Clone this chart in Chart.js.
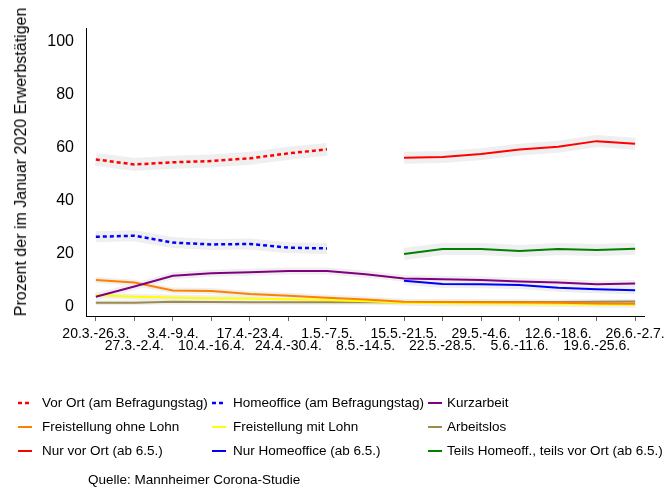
<!DOCTYPE html>
<html>
<head>
<meta charset="utf-8">
<script src="https://cdn.jsdelivr.net/npm/chart.js@4.4.1/dist/chart.umd.min.js"></script>
<style>
  html, body { margin: 0; padding: 0; background: #fff; }
  body { width: 672px; height: 487px; position: relative; overflow: hidden;
         font-family: "Liberation Sans", Arial, sans-serif; color: #000; }
  #chart { position: absolute; left: 0; top: 0; }
  .ytitle { position: absolute; font-size: 16px; white-space: nowrap;
            transform: translate(-50%, -50%) rotate(-90deg); left: 21px; top: 162px; }
  .leg { position: absolute; font-size: 13.5px; white-space: nowrap; line-height: 16px; }
  .leg svg { position: absolute; }
  .source { position: absolute; left: 88px; top: 472px; font-size: 13.5px; }
</style>
</head>
<body>
<canvas id="chart" width="672" height="487"></canvas>
<div class="ytitle">Prozent der im Januar 2020 Erwerbstätigen</div>
<div id="legend"></div>
<div class="source">Quelle: Mannheimer Corona-Studie</div>
<script>
const categories = [
  "20.3.-26.3.", "27.3.-2.4.", "3.4.-9.4.", "10.4.-16.4.", "17.4.-23.4.",
  "24.4.-30.4.", "1.5.-7.5.", "8.5.-14.5.", "15.5.-21.5.", "22.5.-28.5.",
  "29.5.-4.6.", "5.6.-11.6.", "12.6.-18.6.", "19.6.-25.6.", "26.6.-2.7.",
];
const yTicks = [0, 20, 40, 60, 80, 100];

const vorOrt = [55.7, 53.8, 54.6, 55.1, 56.1, 58.0, 59.5, null, null, null, null, null, null, null, null];
const homeoffice = [26.5, 26.9, 24.3, 23.6, 23.8, 22.4, 22.1, null, null, null, null, null, null, null, null];
const kurzarbeit = [3.9, 7.7, 11.8, 12.7, 13.1, 13.6, 13.6, 12.4, 10.8, 10.5, 10.2, 9.6, 9.2, 8.6, 8.9];
const ohneLohn = [10.2, 9.2, 6.2, 6.0, 4.9, 4.2, 3.5, 2.8, 2.0, 1.9, 1.8, 1.7, 1.6, 1.3, 1.2];
const mitLohn = [4.5, 3.9, 3.6, 3.3, 3.2, 2.9, 2.6, 2.2, 1.6, 1.4, 1.3, 1.2, 1.1, 0.9, 0.8];
const arbeitslos = [1.6, 1.6, 2.0, 1.9, 1.8, 1.8, 1.8, 1.8, 1.8, 1.9, 1.9, 1.9, 1.9, 2.0, 2.1];
const nurVorOrt = [null, null, null, null, null, null, null, null, 56.3, 56.6, 57.7, 59.4, 60.5, 62.6, 61.6];
const nurHomeoffice = [null, null, null, null, null, null, null, null, 9.9, 8.7, 8.6, 8.3, 7.3, 6.7, 6.3];
const teilsTeils = [null, null, null, null, null, null, null, null, 20.0, 21.9, 21.9, 21.1, 21.9, 21.5, 22.0];

const FONT = "'Liberation Sans', Arial, sans-serif";
const BAND_COLOR = "#efefef";

// legend order = column by column in rows of three
const series = [
  { label: "Vor Ort (am Befragungstag)", data: vorOrt, color: "#ff0000", dash: [4, 3], band: 13 },
  { label: "Homeoffice (am Befragungstag)", data: homeoffice, color: "#0000ff", dash: [4, 3], band: 11 },
  { label: "Kurzarbeit", data: kurzarbeit, color: "#800080", dash: [], band: 7 },
  { label: "Freistellung ohne Lohn", data: ohneLohn, color: "#ff7f00", dash: [], band: 6 },
  { label: "Freistellung mit Lohn", data: mitLohn, color: "#ffff00", dash: [], band: 6 },
  { label: "Arbeitslos", data: arbeitslos, color: "#9c8a4e", dash: [], band: 5 },
  { label: "Nur vor Ort (ab 6.5.)", data: nurVorOrt, color: "#ff0000", dash: [], band: 12 },
  { label: "Nur Homeoffice (ab 6.5.)", data: nurHomeoffice, color: "#0000ff", dash: [], band: 8 },
  { label: "Teils Homeoff., teils vor Ort (ab 6.5.)", data: teilsTeils, color: "#008000", dash: [], band: 12 },
];

const toPoints = (arr) => arr.map((v, i) => ({ x: i, y: v }));

const bandDatasets = series.map((s) => ({
  label: s.label + " CI",
  data: toPoints(s.data),
  borderColor: BAND_COLOR,
  borderWidth: s.band,
  pointRadius: 0,
  order: 1,
  spanGaps: false,
}));

const lineDatasets = series.map((s) => ({
  label: s.label,
  data: toPoints(s.data),
  borderColor: s.color,
  borderWidth: s.dash.length ? 2.5 : 2,
  borderDash: s.dash,
  pointRadius: 0,
  order: 0,
  spanGaps: false,
}));

new Chart(document.getElementById("chart"), {
  type: "line",
  data: { datasets: [...lineDatasets, ...bandDatasets] },
  options: {
    responsive: false,
    animation: false,
    layout: { padding: { left: 0, right: 17, top: 28, bottom: 0 } },
    plugins: { legend: { display: false }, tooltip: { enabled: false } },
    scales: {
      x: {
        type: "linear",
        min: -0.255,
        max: 14.23,
        afterBuildTicks: (scale) => {
          scale.ticks = categories.map((c, i) => ({ value: i }));
        },
        afterFit: (scale) => { scale.height = 171; },
        grid: { drawOnChartArea: false, drawTicks: true, tickLength: 5, color: "#666" },
        border: { display: true, color: "#000", width: 1 },
        ticks: {
          autoSkip: false,
          maxRotation: 0,
          minRotation: 0,
          padding: 7,
          color: "#000",
          font: { family: FONT, size: 14, lineHeight: 0.88 },
          callback: (v) => (v % 2 === 0 ? [categories[v]] : ["", categories[v]]),
        },
      },
      y: {
        min: -3.4,
        max: 105.3,
        afterBuildTicks: (scale) => {
          scale.ticks = yTicks.map((v) => ({ value: v }));
        },
        afterFit: (scale) => { scale.width = 86; },
        grid: { display: false },
        border: { display: true, color: "#000", width: 1 },
        ticks: {
          padding: 4,
          color: "#000",
          font: { family: FONT, size: 16 },
        },
      },
    },
  },
});

// legend: 3 columns x 3 rows
const legendCols = [{ sym: 18, text: 42 }, { sym: 212, text: 233 }, { sym: 428, text: 447 }];
const legendRows = [403, 427, 451];
const legendEl = document.getElementById("legend");
series.forEach((s, i) => {
  const col = legendCols[i % 3];
  const row = legendRows[Math.floor(i / 3)];
  const item = document.createElement("div");
  item.className = "leg";
  item.style.left = col.sym + "px";
  item.style.top = row - 8 + "px";
  item.style.width = "260px";
  item.style.height = "16px";
  const dash = s.dash.length ? `stroke-dasharray="${s.dash.join(" ")}"` : "";
  item.innerHTML =
    `<svg width="14" height="16" style="left:0;top:0"><line x1="0" y1="8" x2="14" y2="8" stroke="${s.color}" stroke-width="${s.dash.length ? 2.5 : 2}" ${dash}/></svg>` +
    `<span style="position:absolute;left:${col.text - col.sym}px;top:0">${s.label}</span>`;
  legendEl.appendChild(item);
});
</script>
</body>
</html>
